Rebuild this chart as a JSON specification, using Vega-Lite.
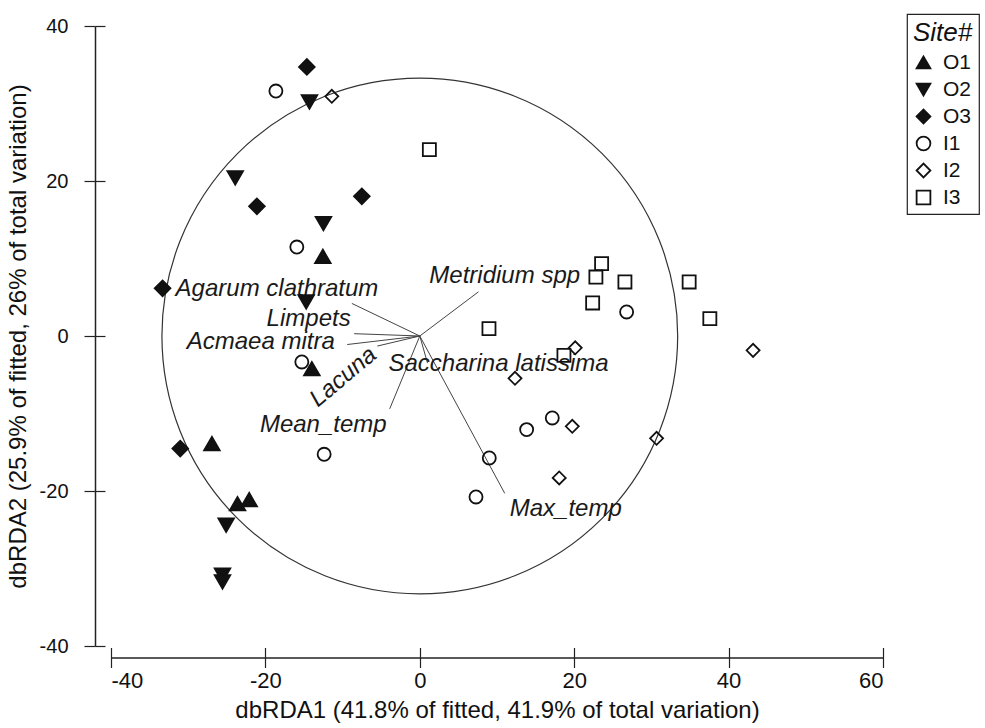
{
  "$schema": "https://vega.github.io/schema/vega-lite/v6.json",
  "width": 772,
  "height": 620,
  "autosize": {"type": "none"},
  "padding": {"left": 111, "top": 26, "right": 102, "bottom": 82},
  "background": "white",
  "config": {
    "view": {"stroke": null},
    "font": "Liberation Sans",
    "legend": {
      "strokeColor": "#222",
      "strokeWidth": 1.2,
      "padding": 6,
      "titleFont": "Liberation Sans",
      "titleFontStyle": "italic",
      "titleFontWeight": "normal",
      "titleFontSize": 26,
      "titleColor": "#111",
      "titlePadding": 6,
      "labelFont": "Liberation Sans",
      "labelFontSize": 21,
      "labelColor": "#111",
      "labelOffset": 9,
      "symbolSize": 190,
      "symbolStrokeWidth": 1.8,
      "rowPadding": 5
    }
  },
  "datasets": {
    "samples": [
      {"site": "O1", "x": -12.56, "y": 10.28},
      {"site": "O1", "x": -13.98, "y": -4.21},
      {"site": "O1", "x": -26.93, "y": -13.88},
      {"site": "O1", "x": -23.61, "y": -21.63},
      {"site": "O1", "x": -22.10, "y": -21.11},
      {"site": "O2", "x": -14.29, "y": 30.19},
      {"site": "O2", "x": -23.91, "y": 20.39},
      {"site": "O2", "x": -12.48, "y": 14.50},
      {"site": "O2", "x": -14.72, "y": 4.39},
      {"site": "O2", "x": -25.08, "y": -24.43},
      {"site": "O2", "x": -25.56, "y": -30.88},
      {"site": "O2", "x": -25.56, "y": -31.74},
      {"site": "O3", "x": -14.63, "y": 34.71},
      {"site": "O3", "x": -21.10, "y": 16.74},
      {"site": "O3", "x": -7.51, "y": 18.03},
      {"site": "O3", "x": -33.32, "y": 6.15},
      {"site": "O3", "x": -31.03, "y": -14.53},
      {"site": "I1", "x": -18.64, "y": 31.61},
      {"site": "I1", "x": -15.93, "y": 11.48},
      {"site": "I1", "x": -15.28, "y": -3.35},
      {"site": "I1", "x": -12.39, "y": -15.26},
      {"site": "I1", "x": 26.79, "y": 3.10},
      {"site": "I1", "x": 17.16, "y": -10.58},
      {"site": "I1", "x": 13.84, "y": -12.08},
      {"site": "I1", "x": 9.00, "y": -15.74},
      {"site": "I1", "x": 7.28, "y": -20.77},
      {"site": "I2", "x": -11.40, "y": 30.93},
      {"site": "I2", "x": 20.13, "y": -1.52},
      {"site": "I2", "x": 12.33, "y": -5.46},
      {"site": "I2", "x": 19.75, "y": -11.65},
      {"site": "I2", "x": 30.67, "y": -13.20},
      {"site": "I2", "x": 18.06, "y": -18.32},
      {"site": "I2", "x": 43.17, "y": -1.85},
      {"site": "I3", "x": 1.24, "y": 24.05},
      {"site": "I3", "x": 23.55, "y": 9.34},
      {"site": "I3", "x": 22.81, "y": 7.61},
      {"site": "I3", "x": 26.57, "y": 6.97},
      {"site": "I3", "x": 34.89, "y": 6.97},
      {"site": "I3", "x": 22.39, "y": 4.26},
      {"site": "I3", "x": 37.57, "y": 2.25},
      {"site": "I3", "x": 8.96, "y": 0.95},
      {"site": "I3", "x": 18.67, "y": -2.49}
    ],
    "vectors": [
      {"variable": "Agarum clathratum", "x": -8.8, "y": 4.2, "lx": -18.5, "ly": 6.1},
      {"variable": "Limpets", "x": -8.5, "y": 0.3, "lx": -14.4, "ly": 2.25},
      {"variable": "Acmaea mitra", "x": -9.4, "y": -1.1, "lx": -20.6, "ly": -0.8},
      {"variable": "Lacuna", "x": -5.5, "y": -1.3, "lx": -9.9, "ly": -5.3},
      {"variable": "Mean_temp", "x": -3.9, "y": -9.4, "lx": -12.5, "ly": -11.5},
      {"variable": "Max_temp", "x": 11.0, "y": -20.3, "lx": 18.9, "ly": -22.3},
      {"variable": "Metridium spp", "x": 7.6, "y": 5.7, "lx": 11.0, "ly": 7.8},
      {"variable": "Saccharina latissima", "x": 1.0, "y": -3.5, "lx": 10.2, "ly": -3.6}
    ],
    "centre": [{"x": 0, "y": 0}]
  },
  "layer": [
    {
      "data": {"name": "centre"},
      "mark": {"type": "point", "shape": "circle", "filled": false, "stroke": "#333", "strokeWidth": 1.2, "size": 266000, "opacity": 1},
      "encoding": {
        "x": {"field": "x", "type": "quantitative", "scale": {"domain": [-40, 60], "nice": false, "zero": false}, "axis": null},
        "y": {"field": "y", "type": "quantitative", "scale": {"domain": [-40, 40], "nice": false, "zero": false}, "axis": null}
      }
    },
    {
      "data": {"name": "vectors"},
      "mark": {"type": "rule", "stroke": "#444", "strokeWidth": 1},
      "encoding": {
        "x": {"field": "x", "type": "quantitative", "scale": {"domain": [-40, 60], "nice": false, "zero": false},
          "axis": {"orient": "bottom", "offset": 11.5, "values": [-40, -20, 0, 20, 40, 60], "tickSize": -10, "tickColor": "#222", "tickWidth": 1.2, "domain": false, "labels": false, "title": null, "grid": false}},
        "y": {"field": "y", "type": "quantitative", "scale": {"domain": [-40, 40], "nice": false, "zero": false},
          "axis": {"orient": "left", "offset": 16, "values": [-40, -20, 0, 20, 40], "tickSize": -10, "tickColor": "#222", "tickWidth": 1.2, "domain": false, "labels": false, "title": null, "grid": false}},
        "x2": {"datum": 0},
        "y2": {"datum": 0}
      }
    },
    {
      "data": {"name": "vectors"},
      "transform": [{"filter": "datum.variable !== 'Lacuna'"}],
      "mark": {"type": "text", "font": "Liberation Sans", "fontStyle": "italic", "fontSize": 24, "color": "#1a1a1a", "align": "center", "baseline": "middle"},
      "encoding": {
        "x": {"field": "lx", "type": "quantitative", "scale": {"domain": [-40, 60], "nice": false, "zero": false}, "axis": null},
        "y": {"field": "ly", "type": "quantitative", "scale": {"domain": [-40, 40], "nice": false, "zero": false}, "axis": null},
        "text": {"field": "variable"}
      }
    },
    {
      "data": {"name": "vectors"},
      "transform": [{"filter": "datum.variable === 'Lacuna'"}],
      "mark": {"type": "text", "font": "Liberation Sans", "fontStyle": "italic", "fontSize": 24, "color": "#1a1a1a", "align": "center", "baseline": "middle", "angle": -40},
      "encoding": {
        "x": {"field": "lx", "type": "quantitative", "scale": {"domain": [-40, 60], "nice": false, "zero": false}, "axis": null},
        "y": {"field": "ly", "type": "quantitative", "scale": {"domain": [-40, 40], "nice": false, "zero": false}, "axis": null},
        "text": {"field": "variable"}
      }
    },
    {
      "data": {"name": "samples"},
      "transform": [{"filter": "datum.site[0] === 'I'"}],
      "mark": {"type": "point", "filled": true, "strokeWidth": 1.8, "opacity": 1, "size": 170},
      "encoding": {
        "x": {"field": "x", "type": "quantitative", "scale": {"domain": [-40, 60], "nice": false, "zero": false}, "axis": null},
        "y": {"field": "y", "type": "quantitative", "scale": {"domain": [-40, 40], "nice": false, "zero": false}, "axis": null},
        "shape": {"field": "site", "type": "nominal", "title": "Site#",
          "scale": {"domain": ["O1", "O2", "O3", "I1", "I2", "I3"], "range": ["triangle-up", "triangle-down", "diamond", "circle", "diamond", "square"]}},
        "fill": {"field": "site", "type": "nominal", "title": "Site#",
          "scale": {"domain": ["O1", "O2", "O3", "I1", "I2", "I3"], "range": ["#111", "#111", "#111", "transparent", "transparent", "transparent"]}},
        "stroke": {"field": "site", "type": "nominal", "title": "Site#",
          "scale": {"domain": ["O1", "O2", "O3", "I1", "I2", "I3"], "range": ["#111", "#111", "#111", "#111", "#111", "#111"]}}
      }
    },
    {
      "data": {"name": "samples"},
      "transform": [{"filter": "datum.site[0] === 'O'"}],
      "mark": {"type": "point", "filled": true, "strokeWidth": 1.5, "opacity": 1, "size": 260},
      "encoding": {
        "x": {"field": "x", "type": "quantitative", "scale": {"domain": [-40, 60], "nice": false, "zero": false},
          "axis": {"orient": "bottom", "offset": 11.5, "values": [-40, -20, 0, 20, 40, 60], "labelExpr": "'' + datum.value", "tickSize": 10, "tickColor": "#222", "tickWidth": 1.2, "domainColor": "#222", "domainWidth": 1.5, "labelFont": "Liberation Sans", "labelFontSize": 22, "labelColor": "#111", "labelPadding": 3, "title": "dbRDA1 (41.8% of fitted, 41.9% of total variation)", "titleFont": "Liberation Sans", "titleFontSize": 24, "titleFontWeight": "normal", "titleColor": "#111", "titlePadding": 7, "grid": false}},
        "y": {"field": "y", "type": "quantitative", "scale": {"domain": [-40, 40], "nice": false, "zero": false},
          "axis": {"orient": "left", "offset": 16, "values": [-40, -20, 0, 20, 40], "labelExpr": "'' + datum.value", "tickSize": 11, "tickColor": "#222", "tickWidth": 1.2, "domainColor": "#222", "domainWidth": 1.5, "labelFont": "Liberation Sans", "labelFontSize": 20, "labelColor": "#111", "labelPadding": 16, "title": "dbRDA2 (25.9% of fitted, 26% of total variation)", "titleFont": "Liberation Sans", "titleFontSize": 24, "titleFontWeight": "normal", "titleColor": "#111", "titlePadding": 9, "grid": false}},
        "shape": {"field": "site", "type": "nominal", "title": "Site#",
          "scale": {"domain": ["O1", "O2", "O3", "I1", "I2", "I3"], "range": ["triangle-up", "triangle-down", "diamond", "circle", "diamond", "square"]},
          "legend": {"orient": "none", "legendX": 796, "legendY": -12}},
        "fill": {"field": "site", "type": "nominal", "title": "Site#",
          "scale": {"domain": ["O1", "O2", "O3", "I1", "I2", "I3"], "range": ["#111", "#111", "#111", "transparent", "transparent", "transparent"]},
          "legend": {"orient": "none", "legendX": 796, "legendY": -12}},
        "stroke": {"field": "site", "type": "nominal", "title": "Site#",
          "scale": {"domain": ["O1", "O2", "O3", "I1", "I2", "I3"], "range": ["#111", "#111", "#111", "#111", "#111", "#111"]},
          "legend": {"orient": "none", "legendX": 796, "legendY": -12}}
      }
    }
  ],
  "resolve": {"axis": {"x": "independent", "y": "independent"}}
}
